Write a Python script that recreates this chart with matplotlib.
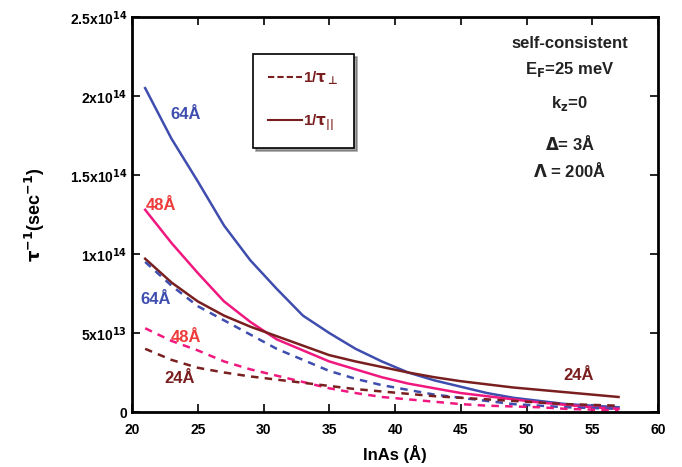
import matplotlib
matplotlib.use('Agg')
import matplotlib.pyplot as plt
from matplotlib.lines import Line2D

plt.rcParams['font.family'] = ['Liberation Sans', 'DejaVu Sans']
plt.rcParams['font.weight'] = 'bold'
plt.rcParams['mathtext.default'] = 'bf'

# InAs thickness (Å)
inas = [21, 23, 25, 27, 29, 31, 33, 35, 37, 39, 41, 43, 45, 47, 49, 51, 53, 55, 57]

# 1/tau_parallel (solid), units of 1e14 s^-1
par_64 = [2.05, 1.73, 1.46, 1.18, 0.96, 0.78, 0.61, 0.50, 0.40, 0.32, 0.25, 0.20, 0.16, 0.12, 0.09, 0.07, 0.05, 0.04, 0.03]
par_48 = [1.28, 1.07, 0.88, 0.70, 0.57, 0.46, 0.39, 0.32, 0.27, 0.22, 0.18, 0.15, 0.12, 0.10, 0.08, 0.06, 0.045, 0.03, 0.02]
par_24 = [0.97, 0.82, 0.70, 0.61, 0.54, 0.48, 0.42, 0.36, 0.32, 0.285, 0.25, 0.22, 0.195, 0.175, 0.155, 0.14, 0.125, 0.11, 0.095]

# 1/tau_perp (dashed)
perp_64 = [0.95, 0.80, 0.67, 0.58, 0.49, 0.40, 0.33, 0.26, 0.21, 0.17, 0.14, 0.11, 0.09, 0.07, 0.05, 0.04, 0.03, 0.025, 0.02]
perp_48 = [0.53, 0.45, 0.39, 0.32, 0.27, 0.23, 0.19, 0.15, 0.12, 0.095, 0.08, 0.065, 0.05, 0.04, 0.035, 0.03, 0.02, 0.015, 0.01]
perp_24 = [0.40, 0.33, 0.28, 0.25, 0.225, 0.205, 0.185, 0.165, 0.145, 0.13, 0.115, 0.10, 0.09, 0.08, 0.07, 0.06, 0.05, 0.045, 0.04]

xticks = [20, 25, 30, 35, 40, 45, 50, 55, 60]
yticks = [0, 0.5e14, 1e14, 1.5e14, 2e14, 2.5e14]
ylabels = ['0', '5x10$^{13}$', '1x10$^{14}$', '1.5x10$^{14}$', '2x10$^{14}$', '2.5x10$^{14}$']

blue = '#3F4DAE'
pink = '#F0187F'
brown = '#7A1F1F'
red = '#EE3B3B'

fig = plt.figure(figsize=(6.82, 4.67), dpi=100)
ax = fig.add_axes([132 / 682, 55 / 467, 526 / 682, 395 / 467])

def s(v):
    return [a * 1e14 for a in v]

ax.plot(inas, s(par_64), color=blue, lw=1.8)
ax.plot(inas, s(par_48), color=pink, lw=1.8)
ax.plot(inas, s(par_24), color=brown, lw=1.8)
ax.plot(inas, s(perp_64), color=blue, lw=1.8, ls=(0, (3, 2.5)))
ax.plot(inas, s(perp_48), color=pink, lw=1.8, ls=(0, (3, 2.5)))
ax.plot(inas, s(perp_24), color=brown, lw=1.8, ls=(0, (3, 2.5)))

ax.set_xlim(20, 60)
ax.set_ylim(0, 2.5e14)
ax.set_xticks(xticks)
ax.set_xticklabels([str(t) for t in xticks], fontweight='bold')
ax.set_yticks(yticks)
ax.set_yticklabels(ylabels, fontweight='bold')
ax.tick_params(direction='in', top=True, right=True, length=6, width=1.2, labelsize=10)
ax.tick_params(axis='x', pad=8)
for sp in ax.spines.values():
    sp.set_linewidth(2)

ax.set_xlabel('InAs (Å)', fontsize=12, fontweight='bold', labelpad=6)
ax.set_ylabel(r'$\tau^{-1}$(sec$^{-1}$)', fontsize=13, fontweight='bold', labelpad=16)

# curve labels
ax.text(24.1, 1.88e14, '64Å', color=blue, fontsize=12, fontweight='bold', ha='center', va='center')
ax.text(22.2, 1.31e14, '48Å', color=red, fontsize=12, fontweight='bold', ha='center', va='center')
ax.text(21.8, 0.71e14, '64Å', color=blue, fontsize=12, fontweight='bold', ha='center', va='center')
ax.text(24.1, 0.47e14, '48Å', color=red, fontsize=12, fontweight='bold', ha='center', va='center')
ax.text(23.6, 0.21e14, '24Å', color=brown, fontsize=12, fontweight='bold', ha='center', va='center')
ax.text(54.0, 0.23e14, '24Å', color=brown, fontsize=12, fontweight='bold', ha='center', va='center')

# parameters block
params = ['self-consistent', 'E$_F$=25 meV', 'k$_z$=0', r'$\Delta$= 3Å', r'$\Lambda$ = 200Å']
ys = [2.335e14, 2.165e14, 1.95e14, 1.70e14, 1.53e14]
for t, yy in zip(params, ys):
    ax.text(53.3, yy, t, color='#222222', fontsize=12, fontweight='bold', ha='center', va='center')

handles = [Line2D([], [], color=brown, lw=1.5, ls=(0, (3, 1.5))),
           Line2D([], [], color=brown, lw=1.5)]
leg = ax.legend(handles, [r'1/$\tau_{\bot}$', r'1/$\tau_{||}$'],
                loc='upper left', bbox_to_anchor=(0.215, 0.925),
                fancybox=False, shadow=True, edgecolor='black',
                prop={'size': 11, 'weight': 'bold'}, labelspacing=1.6, handlelength=2.2,
                handletextpad=0.1, borderpad=1.0, framealpha=1)
for t in leg.get_texts():
    t.set_color(brown)
leg.get_frame().set_linewidth(1.2)

fig.savefig('out.png', dpi=100)
